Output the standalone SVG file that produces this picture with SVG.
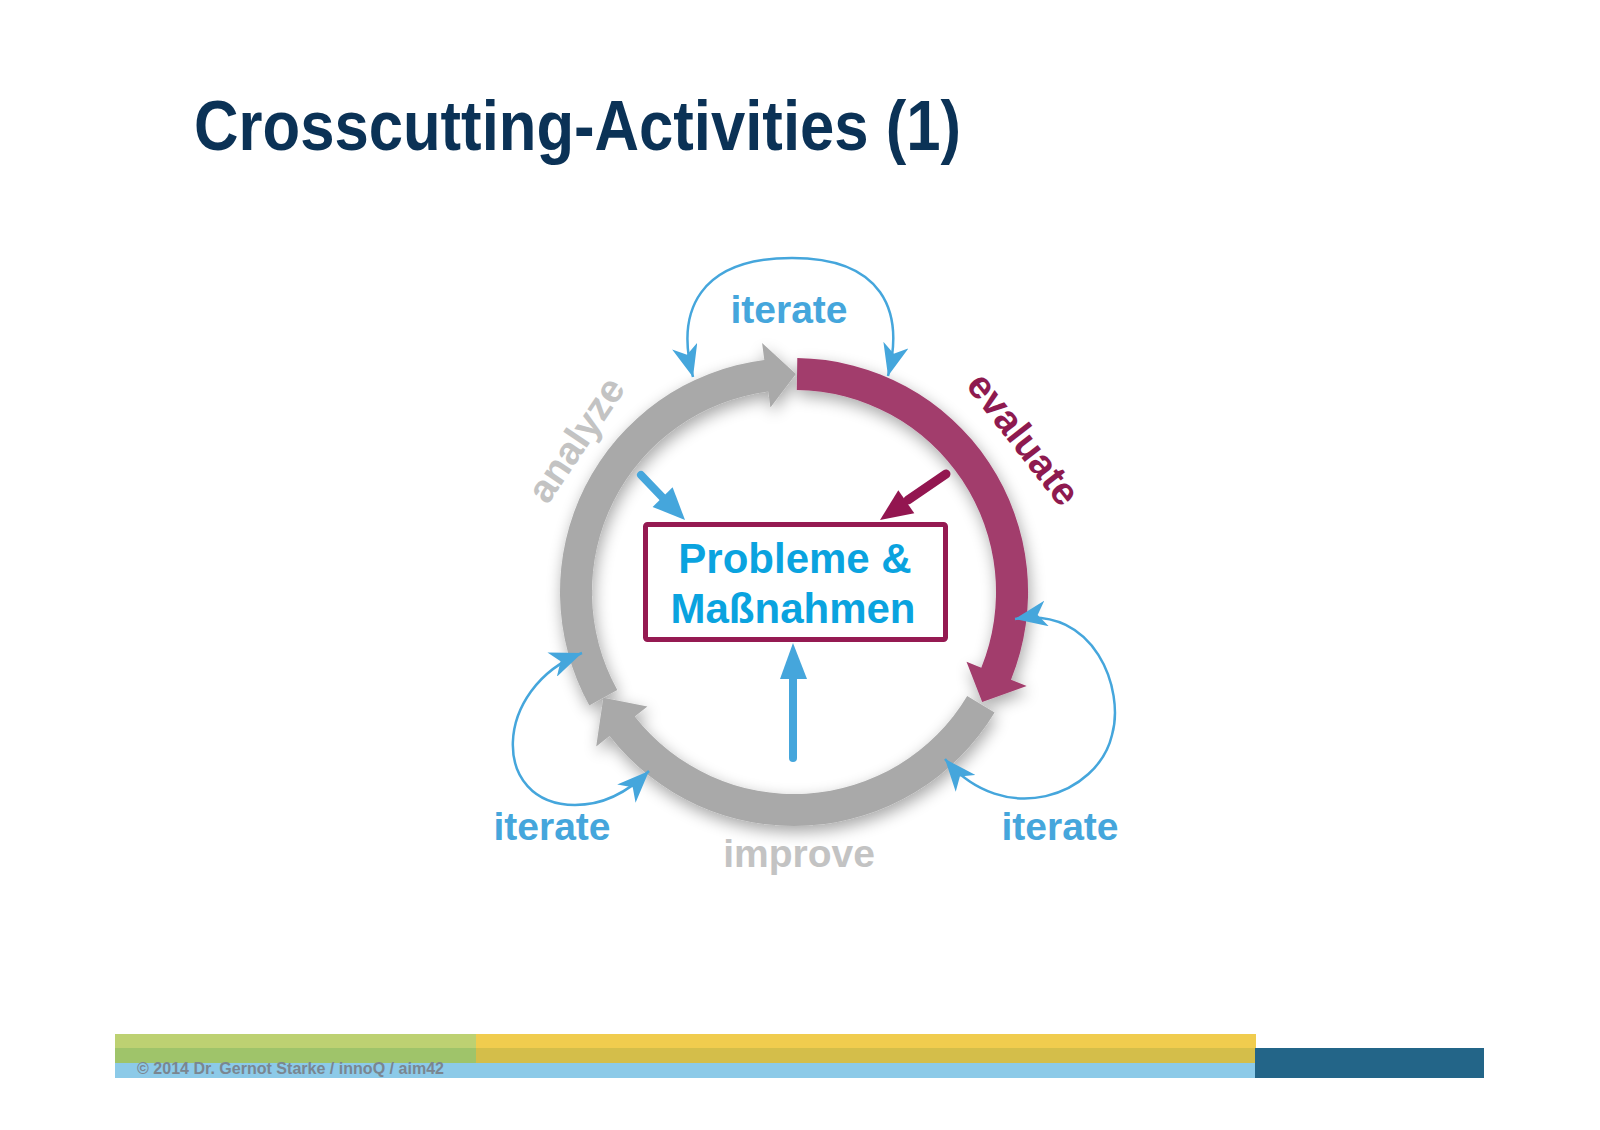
<svg xmlns="http://www.w3.org/2000/svg" width="1600" height="1130" viewBox="0 0 1600 1130">
  <style>
    .title { font-family: "Liberation Sans Narrow", "Liberation Sans", Arial, sans-serif; font-weight: bold; font-size: 71px; fill: #0b3256; }
    .lbl { font-family: "Liberation Sans", Arial, sans-serif; font-weight: bold; font-size: 39px; text-anchor: middle; }
    .it { fill: #45a6dc; }
    .gray { fill: #c3c3c3; }
    .eval { fill: #8e1a4f; }
    .boxtxt { font-family: "Liberation Sans", Arial, sans-serif; font-weight: bold; font-size: 42px; fill: #0aa3df; text-anchor: middle; }
    .loop { fill: none; stroke: #45a6dc; stroke-width: 2.5; marker-start: url(#stealth); marker-end: url(#stealth); }
    .foot { font-family: "Liberation Sans Narrow", "Liberation Sans", Arial, sans-serif; font-weight: bold; font-size: 16px; fill: #7a8690; }
  </style>
  <defs>
    <marker id="stealth" markerUnits="userSpaceOnUse" markerWidth="32" markerHeight="26" viewBox="0 0 32 26" refX="32" refY="13" orient="auto-start-reverse">
      <path d="M0,0 L32,13 L0,26 L9,13 Z" fill="#45a6dc"/>
    </marker>
    <filter id="sh" x="-30%" y="-30%" width="160%" height="160%">
      <feGaussianBlur in="SourceAlpha" stdDeviation="8"/>
      <feOffset dx="2" dy="6" result="b"/>
      <feComponentTransfer><feFuncA type="linear" slope="0.35"/></feComponentTransfer>
      <feMerge><feMergeNode/><feMergeNode in="SourceGraphic"/></feMerge>
    </filter>
  </defs>
  <rect width="1600" height="1130" fill="#ffffff"/>

  <text id="title" class="title" x="194" y="150" textLength="767" lengthAdjust="spacingAndGlyphs">Crosscutting-Activities (1)</text>

  <g id="ring" filter="url(#sh)">
    <g id="seg-analyze"><path d="M589.3,705.4 A234,234 0 0 1 764.3,359.9 L762.1,343.0 L795.9,374.0 L770.4,407.5 L768.3,391.6 A202,202 0 0 0 617.3,689.9 Z" fill="#a9a9a9"/></g>
    <g id="seg-evaluate"><path d="M797.3,358.0 A234,234 0 0 1 1011.0,679.7 L1026.7,686.0 L982.2,702.0 L966.5,661.7 L981.3,667.7 A202,202 0 0 0 796.8,390.0 Z" fill="#a23c6c"/></g>
    <g id="seg-improve"><path d="M994.6,712.5 A234,234 0 0 1 609.6,736.1 L596.2,746.5 L603.3,697.7 L647.4,706.5 L634.8,716.4 A202,202 0 0 0 967.2,696.0 Z" fill="#a9a9a9"/></g>
  </g>

  <g id="label-analyze"><text class="lbl gray" transform="translate(587,447) rotate(-56)">analyze</text></g>
  <g id="label-evaluate"><text class="lbl eval" transform="translate(1013,447) rotate(52)">evaluate</text></g>
  <g id="label-improve"><text class="lbl gray" x="799" y="867">improve</text></g>
  <g id="label-iterate-top"><text class="lbl it" x="789" y="323">iterate</text></g>
  <g id="label-iterate-left"><text class="lbl it" x="552" y="840">iterate</text></g>
  <g id="label-iterate-right"><text class="lbl it" x="1060" y="840">iterate</text></g>

  <g id="node-box">
    <rect x="645.5" y="524.5" width="300" height="115" rx="2" fill="#ffffff" stroke="#951a52" stroke-width="5"/>
    <text class="boxtxt" x="795" y="573">Probleme &amp;</text>
    <text class="boxtxt" x="793" y="623">Maßnahmen</text>
  </g>

  <g id="connectors">
    <path class="loop" d="M693,377 C675,310 700,258 792,258 C882,258 905,310 888,376"/>
    <path class="loop" d="M582,653 C492,688 490,805 575,805 C605,805 630,790 649,771"/>
    <path class="loop" d="M1015,619 C1095,605 1125,690 1112,735 C1098,795 1005,830 945,759"/>
    <g id="arrow-analyze">
      <line x1="641" y1="475" x2="664" y2="499" stroke="#45a6dc" stroke-width="8" stroke-linecap="round"/>
      <polygon points="685,520 652.6,506.9 672.6,487.3" fill="#45a6dc"/>
    </g>
    <g id="arrow-evaluate">
      <line x1="946" y1="474" x2="908" y2="500" stroke="#931650" stroke-width="9" stroke-linecap="round"/>
      <polygon points="880,520 914.3,513.3 898.3,490.3" fill="#931650"/>
    </g>
    <g id="arrow-improve">
      <line x1="793" y1="758" x2="793" y2="676" stroke="#45a6dc" stroke-width="8" stroke-linecap="round"/>
      <polygon points="793,643 807,679 780,679" fill="#45a6dc"/>
    </g>
  </g>

  <g id="footer">
    <rect x="115" y="1034" width="361" height="14" fill="#bdd172"/>
    <rect x="115" y="1048" width="361" height="15" fill="#9fc46a"/>
    <rect x="476" y="1034" width="780" height="14" fill="#f0cc4e"/>
    <rect x="476" y="1048" width="779" height="15" fill="#d4be4a"/>
    <rect x="115" y="1063" width="1140" height="15" fill="#8ccae8"/>
    <rect x="1255" y="1048" width="229" height="30" fill="#236588"/>
    <text class="foot" x="137" y="1074" textLength="307" lengthAdjust="spacingAndGlyphs">© 2014 Dr. Gernot Starke / innoQ / aim42</text>
  </g>
</svg>
